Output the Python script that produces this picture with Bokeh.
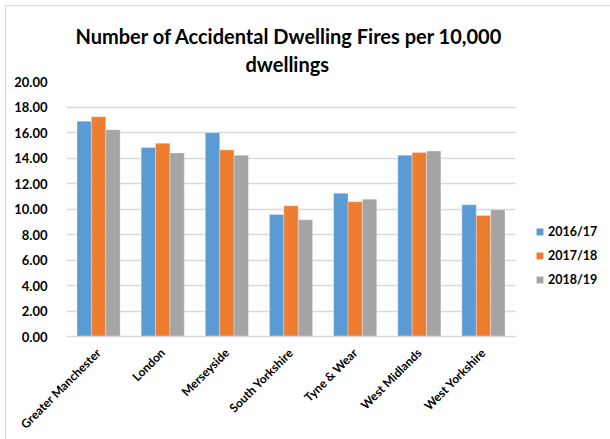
from math import pi
from bokeh.plotting import figure
from bokeh.models import (Range1d, Legend, LegendItem, Title, BoxAnnotation, FixedTicker,
                          NumeralTickFormatter, SingleIntervalTicker, ColumnDataSource)
from bokeh.transform import dodge
from bokeh.embed import file_html
from bokeh.resources import INLINE

areas = ["Greater Manchester", "London", "Merseyside", "South Yorkshire",
         "Tyne & Wear", "West Midlands", "West Yorkshire"]
series_names = ["2016/17", "2017/18", "2018/19"]
v2016 = [16.89, 14.82, 15.98, 9.57, 11.24, 14.22, 10.33]
v2017 = [17.23, 15.15, 14.63, 10.25, 10.56, 14.43, 9.49]
v2018 = [16.22, 14.40, 14.22, 9.16, 10.77, 14.55, 9.94]
colors = ["#5B9BD5", "#ED7D31", "#A5A5A5"]
title_lines = ["Number of Accidental Dwelling Fires per 10,000", "dwellings"]

FONT = "Lato"
n = len(areas)
pos = [i + 0.5 for i in range(n)]

src = ColumnDataSource(dict(pos=pos, a=v2016, b=v2017, c=v2018))

p = figure(width=610, height=439, x_range=Range1d(0, n + 1.48), y_range=Range1d(0, 20),
           output_backend="svg", toolbar_location=None, title=None,
           min_border_left=66, min_border_right=0, min_border_top=81, min_border_bottom=100)
p.outline_line_color = None
p.background_fill_color = "white"
p.border_fill_alpha = 0
p.styles = {
    "background": "linear-gradient(#d9d9d9,#d9d9d9) 5px 5px / 1px 100% no-repeat, "
                  "linear-gradient(#d9d9d9,#d9d9d9) 5px 5px / 100% 1px no-repeat, white"
}

# title lines (added nearest-frame first)
p.add_layout(Title(text=title_lines[1], align="left", offset=179, text_font=FONT,
                   text_font_style="bold", text_font_size="20px", text_color="black",
                   vertical_align="top", standoff=8), "above")
p.add_layout(Title(text=title_lines[0], align="left", offset=9, text_font=FONT,
                   text_font_style="bold", text_font_size="20px", text_color="black",
                   standoff=0), "above")

w = 0.224
renderers = []
for key, off, col in zip(["a", "b", "c"], [-w, 0, w], colors):
    r = p.vbar(x=dodge("pos", off), top=key, width=w, source=src,
               fill_color=col, line_color="white", line_width=0.6, line_alpha=0.5)
    renderers.append(r)

# axes
p.yaxis.ticker = SingleIntervalTicker(interval=2)
p.yaxis.formatter = NumeralTickFormatter(format="0.00")
p.yaxis.axis_line_color = None
p.yaxis.major_tick_line_color = None
p.yaxis.minor_tick_line_color = None
p.yaxis.major_label_standoff = 13
p.yaxis.major_label_text_font = FONT
p.yaxis.major_label_text_font_style = "bold"
p.yaxis.major_label_text_font_size = "13px"
p.yaxis.major_label_text_color = "black"

p.xaxis.ticker = FixedTicker(ticks=pos)
p.xaxis.major_label_overrides = {x: a for x, a in zip(pos, areas)}
p.xaxis.bounds = (0, n)
p.xaxis.axis_line_color = "#D9D9D9"
p.xaxis.axis_line_width = 1.5
p.xaxis.major_tick_line_color = None
p.xaxis.minor_tick_line_color = None
p.xaxis.major_label_orientation = pi / 4
p.xaxis.major_label_standoff = 8
p.xaxis.major_label_text_font = FONT
p.xaxis.major_label_text_font_style = "bold"
p.xaxis.major_label_text_font_size = "12px"
p.xaxis.major_label_text_color = "black"

p.xgrid.grid_line_color = None
p.ygrid.grid_line_color = "#D9D9D9"
p.ygrid.grid_line_width = 1.5

# blank out grid beyond the last category (legend area)
p.add_layout(BoxAnnotation(left=n, fill_color="white", fill_alpha=1, line_color=None))

legend = Legend(items=[LegendItem(label=s, renderers=[r]) for s, r in zip(series_names, renderers)],
                location=(469, 47), orientation="vertical",
                glyph_width=9, glyph_height=9, label_standoff=4, spacing=4,
                label_height=20, padding=5, margin=0,
                border_line_color=None, background_fill_alpha=0,
                label_text_font=FONT, label_text_font_style="bold",
                label_text_font_size="12.5px", label_text_color="black")
p.add_layout(legend, "center")

open("out.html", "w").write(file_html(p, INLINE))
